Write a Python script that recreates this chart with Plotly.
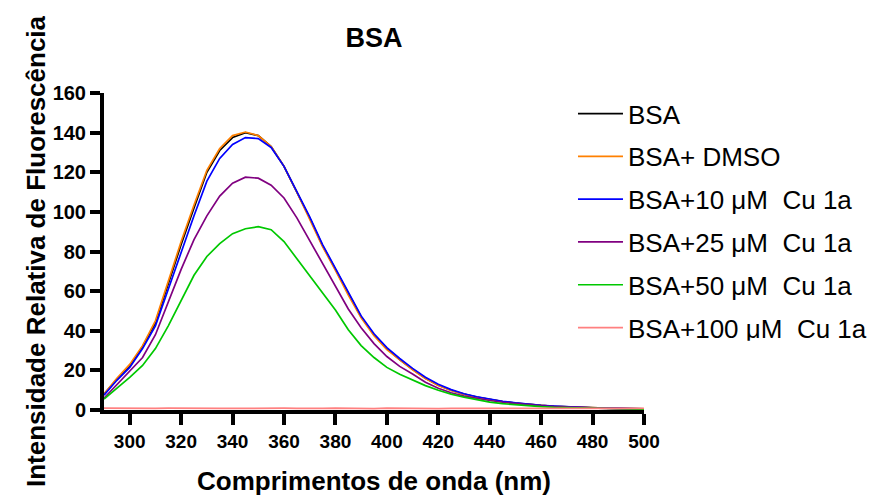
import plotly.graph_objects as go

wavelength = [290, 295, 300, 305, 310, 315, 320, 325, 330, 335, 340, 345, 350, 355, 360,
              365, 370, 375, 380, 385, 390, 395, 400, 405, 410, 415, 420, 425, 430, 435,
              440, 445, 450, 455, 460, 465, 470, 475, 480, 485, 490, 495, 500]

bsa = [8, 15.5, 22, 32, 44, 64, 83.5, 102, 120, 131, 137.5, 140, 138.5, 133, 123,
       110, 97, 83, 71, 58.5, 47, 38, 31, 25.5, 20.5, 16, 12.5, 10, 8, 6.5,
       5.3, 4.3, 3.5, 2.8, 2.3, 1.9, 1.6, 1.3, 1.1, 0.9, 0.8, 0.7, 0.6]

bsa_dmso = [8, 16, 23, 32.5, 45, 65, 85, 103.5, 121, 132, 138.5, 140.3, 138.5, 133, 123,
            110, 96.5, 82.5, 70.5, 58, 46.5, 37.5, 30.5, 25.2, 20.3, 15.9, 12.4, 9.9, 7.9, 6.4,
            5.2, 4.2, 3.4, 2.8, 2.3, 1.9, 1.6, 1.3, 1.1, 0.9, 0.8, 0.7, 0.6]

bsa_10 = [7.5, 15, 21.5, 31, 42.5, 61, 80, 98, 115.5, 127, 134, 137.5, 137, 132.5, 123,
          110.5, 97.5, 83.5, 71.5, 59, 47.5, 38.5, 31.5, 26, 21, 16.5, 13, 10.3, 8.2, 6.7,
          5.5, 4.4, 3.6, 2.9, 2.4, 2.0, 1.6, 1.4, 1.1, 0.95, 0.8, 0.7, 0.6]

bsa_25 = [6, 13, 19.5, 26.5, 38, 55, 71, 86, 98, 108, 114.5, 117.5, 117, 113.5, 107,
          97, 85.5, 73.5, 62.5, 51, 41.5, 33.5, 27, 22, 18.2, 14, 11, 8.7, 7, 5.8,
          4.8, 3.9, 3.2, 2.6, 2.1, 1.7, 1.4, 1.2, 1.0, 0.85, 0.7, 0.6, 0.5]

bsa_50 = [5.5, 11, 16.5, 22.5, 31, 42.5, 55.5, 68, 77.5, 84, 89, 91.5, 92.5, 91, 85,
          76.5, 68, 59.5, 50.5, 40.5, 32.5, 26.5, 21.5, 18, 15, 12.3, 10, 8, 6.5, 5.2,
          4, 3.2, 2.6, 2.1, 1.7, 1.4, 1.2, 1.0, 0.85, 0.7, 0.6, 0.5, 0.45]

bsa_100 = [0.9, 0.8, 0.9, 0.7, 0.8, 0.9, 0.8, 0.7, 0.9, 0.8, 0.8, 0.9, 0.7, 0.8, 0.9,
           0.8, 0.7, 0.8, 0.9, 0.8, 0.8, 0.7, 0.9, 0.8, 0.8, 0.9, 0.7, 0.8, 0.8, 0.9,
           0.8, 0.7, 0.8, 0.9, 0.8, 0.8, 0.7, 0.8, 0.9, 0.8, 0.8, 0.7, 0.8]

series_names = ["BSA", "BSA+ DMSO",
                "BSA+10 \u03bcM\u00a0 Cu 1a", "BSA+25 \u03bcM\u00a0 Cu 1a",
                "BSA+50 \u03bcM\u00a0 Cu 1a", "BSA+100 \u03bcM\u00a0 Cu 1a"]
series_values = [bsa, bsa_dmso, bsa_10, bsa_25, bsa_50, bsa_100]
series_colors = ["#000000", "#FF8000", "#0000FF", "#800080", "#00C800", "#FF8080"]

x_ticks = [300, 320, 340, 360, 380, 400, 420, 440, 460, 480, 500]
y_ticks = [0, 20, 40, 60, 80, 100, 120, 140, 160]

FONT = "Arial, 'Liberation Sans', Helvetica, sans-serif"

fig = go.Figure()
for i, (name, vals, col) in enumerate(zip(series_names, series_values, series_colors)):
    fig.add_trace(go.Scatter(x=wavelength, y=vals, mode="lines", name=name,
                             line=dict(color=col, width=1.7), legendgroup=f"g{i}"))

fig.update_layout(
    width=871, height=501,
    paper_bgcolor="white", plot_bgcolor="white",
    margin=dict(l=104, r=227, t=93, b=91, autoexpand=False),
    title=dict(text="<b>BSA</b>", x=(104 + 644) / 2 / 871, xanchor="center",
               y=1 - 38 / 501, yanchor="middle", yref="container",
               font=dict(family=FONT, size=27, color="black")),
    legend=dict(x=0.8685, xanchor="left", y=1.009, yanchor="top",
                font=dict(family=FONT, size=26, color="black"),
                itemwidth=45, tracegroupgap=6, bgcolor="rgba(0,0,0,0)"),
    showlegend=True,
)
fig.update_xaxes(range=[290, 500], tickvals=x_ticks, ticktext=[str(v) for v in x_ticks],
                 showline=True, linecolor="black", linewidth=4,
                 ticks="outside", ticklen=11, tickwidth=3.5, tickcolor="black",
                 showgrid=False, zeroline=False,
                 tickfont=dict(family=FONT, size=19, color="black", weight="bold"),
                 title=dict(text="<b>Comprimentos de onda (nm)</b>", standoff=22,
                            font=dict(family=FONT, size=26, color="black")))
fig.update_yaxes(range=[0, 160], tickvals=y_ticks, ticktext=[str(v) for v in y_ticks],
                 showline=True, linecolor="black", linewidth=4,
                 ticks="outside", ticklen=10, tickwidth=3.5, tickcolor="black",
                 showgrid=False, zeroline=False,
                 tickfont=dict(family=FONT, size=20, color="black", weight="bold"),
                 title=dict(text="<b>Intensidade Relativa de Fluorescência</b>", standoff=1,
                            font=dict(family=FONT, size=26, color="black")))

fig.write_html("out.html")
